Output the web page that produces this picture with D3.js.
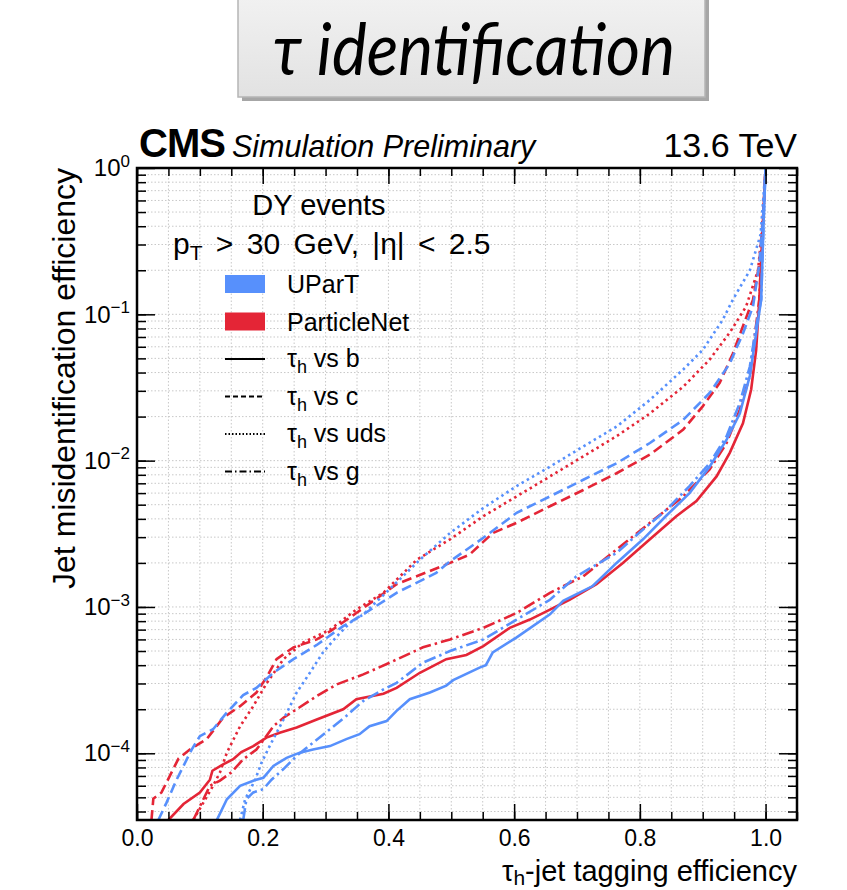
<!DOCTYPE html>
<html>
<head>
<meta charset="utf-8">
<script src="https://cdn.jsdelivr.net/npm/d3@7"></script>
<style>
  body { margin: 0; background: #fff; }
  svg { display: block; font-family: "Liberation Sans", Arial, Helvetica, sans-serif; }
</style>
</head>
<body>
<div id="chart"></div>
<script>
// curves: [tau_h tagging efficiency, jet misidentification efficiency]
const upartB = [[0.127,3.5e-5],[0.143,4.85e-5],[0.164,6.0e-5],[0.185,6.5e-5],[0.201,6.8e-5],[0.217,8.2e-5],[0.238,9.3e-5],[0.259,1.01e-4],[0.280,1.06e-4],[0.307,1.12e-4],[0.333,1.25e-4],[0.354,1.35e-4],[0.370,1.53e-4],[0.397,1.66e-4],[0.413,1.95e-4],[0.434,2.34e-4],[0.466,2.6e-4],[0.492,2.9e-4],[0.503,3.16e-4],[0.545,3.85e-4],[0.555,4.0e-4],[0.566,4.9e-4],[0.604,6.2e-4],[0.657,8.9e-4],[0.678,1.1e-3],[0.725,1.39e-3],[0.763,2.0e-3],[0.805,2.9e-3],[0.842,4.2e-3],[0.879,6.0e-3],[0.911,9.1e-3],[0.938,1.39e-2],[0.959,2.1e-2],[0.975,3.8e-2],[0.985,7.4e-2],[0.993,0.126],[0.997,0.45],[1.0,1.0]];
const upartC = [[0.034,3.5e-5],[0.047,4.6e-5],[0.063,6.6e-5],[0.074,8.2e-5],[0.087,1.06e-4],[0.100,1.31e-4],[0.121,1.46e-4],[0.143,1.9e-4],[0.169,2.5e-4],[0.190,2.8e-4],[0.217,3.55e-4],[0.249,4.4e-4],[0.286,5.5e-4],[0.328,7.4e-4],[0.360,8.9e-4],[0.413,1.25e-3],[0.476,1.71e-3],[0.498,2.05e-3],[0.551,2.97e-3],[0.604,4.4e-3],[0.657,5.7e-3],[0.710,7.4e-3],[0.763,9.6e-3],[0.816,1.32e-2],[0.869,1.9e-2],[0.911,2.9e-2],[0.943,4.6e-2],[0.964,7.4e-2],[0.980,0.113],[0.990,0.22],[0.996,0.45],[1.0,1.0]];
const upartUds = [[0.164,3.5e-5],[0.172,4.85e-5],[0.188,6.6e-5],[0.198,8.6e-5],[0.211,1.12e-4],[0.233,1.7e-4],[0.254,2.6e-4],[0.275,3.55e-4],[0.296,4.9e-4],[0.318,6.3e-4],[0.339,7.8e-4],[0.360,8.9e-4],[0.400,1.3e-3],[0.450,2.1e-3],[0.498,3.2e-3],[0.551,4.75e-3],[0.604,6.7e-3],[0.657,9.1e-3],[0.710,1.25e-2],[0.763,1.71e-2],[0.816,2.6e-2],[0.869,4.2e-2],[0.900,5.7e-2],[0.932,9.2e-2],[0.948,0.126],[0.975,0.2],[0.992,0.35],[1.0,1.0]];
const upartG = [[0.169,3.5e-5],[0.174,4.85e-5],[0.185,5.4e-5],[0.201,5.7e-5],[0.214,6.6e-5],[0.233,7.8e-5],[0.254,9.6e-5],[0.280,1.18e-4],[0.307,1.46e-4],[0.333,1.8e-4],[0.360,2.28e-4],[0.392,2.73e-4],[0.413,3.03e-4],[0.455,4.16e-4],[0.498,5.0e-4],[0.551,6.0e-4],[0.604,8.2e-4],[0.657,1.12e-3],[0.699,1.62e-3],[0.763,2.34e-3],[0.805,3.38e-3],[0.842,4.6e-3],[0.879,6.7e-3],[0.911,9.6e-3],[0.938,1.47e-2],[0.959,2.48e-2],[0.975,4.4e-2],[0.985,8.3e-2],[0.993,0.126],[0.997,0.45],[1.0,1.0]];

const pnB = [[0.050,3.5e-5],[0.074,4.5e-5],[0.100,5.4e-5],[0.116,6.6e-5],[0.120,7.6e-5],[0.137,8.4e-5],[0.153,9.1e-5],[0.166,1.02e-4],[0.185,1.12e-4],[0.206,1.28e-4],[0.227,1.38e-4],[0.254,1.5e-4],[0.286,1.7e-4],[0.328,2.0e-4],[0.349,2.34e-4],[0.392,2.55e-4],[0.413,2.8e-4],[0.450,3.55e-4],[0.492,4.4e-4],[0.524,4.7e-4],[0.551,5.4e-4],[0.593,7.2e-4],[0.625,8.2e-4],[0.657,9.6e-4],[0.688,1.12e-3],[0.731,1.43e-3],[0.773,2.0e-3],[0.816,2.9e-3],[0.858,4.17e-3],[0.890,5.3e-3],[0.922,7.8e-3],[0.943,1.13e-2],[0.964,1.8e-2],[0.977,3.05e-2],[0.985,5.7e-2],[0.990,0.126],[0.996,0.45],[1.0,1.0]];
const pnC = [[0.023,3.5e-5],[0.026,4.9e-5],[0.039,5.4e-5],[0.066,9.2e-5],[0.084,1.06e-4],[0.111,1.25e-4],[0.137,1.75e-4],[0.164,2.1e-4],[0.190,2.6e-4],[0.206,3.3e-4],[0.222,4.4e-4],[0.249,5.3e-4],[0.286,6.0e-4],[0.307,6.8e-4],[0.349,9.1e-4],[0.413,1.43e-3],[0.498,2.0e-3],[0.529,2.28e-3],[0.566,3.2e-3],[0.604,3.76e-3],[0.657,4.88e-3],[0.710,6.3e-3],[0.763,8.2e-3],[0.816,1.1e-2],[0.869,1.63e-2],[0.900,2.35e-2],[0.927,3.4e-2],[0.948,5.4e-2],[0.964,8.3e-2],[0.980,0.126],[0.990,0.22],[0.996,0.45],[1.0,1.0]];
const pnUds = [[0.0895,3.5e-5],[0.103,4.4e-5],[0.121,6.0e-5],[0.132,7.4e-5],[0.143,1.01e-4],[0.164,1.53e-4],[0.185,2.1e-4],[0.206,3.0e-4],[0.233,4.4e-4],[0.264,5.7e-4],[0.307,7.0e-4],[0.349,9.6e-4],[0.392,1.25e-3],[0.445,2.1e-3],[0.498,2.9e-3],[0.551,4.17e-3],[0.604,5.7e-3],[0.657,7.8e-3],[0.710,1.07e-2],[0.763,1.47e-2],[0.816,2.1e-2],[0.869,3.2e-2],[0.911,4.9e-2],[0.943,7.5e-2],[0.969,0.113],[0.988,0.2],[0.996,0.45],[1.0,1.0]];
const pnG = [[0.0895,3.5e-5],[0.103,4.6e-5],[0.116,6.0e-5],[0.132,6.5e-5],[0.150,7.4e-5],[0.169,9.1e-5],[0.190,1.06e-4],[0.204,1.28e-4],[0.217,1.53e-4],[0.233,1.75e-4],[0.254,2.0e-4],[0.286,2.46e-4],[0.318,2.96e-4],[0.360,3.46e-4],[0.402,4.16e-4],[0.455,5.3e-4],[0.498,6.0e-4],[0.551,7.2e-4],[0.604,9.1e-4],[0.657,1.25e-3],[0.710,1.62e-3],[0.763,2.47e-3],[0.816,3.76e-3],[0.869,5.7e-3],[0.911,8.7e-3],[0.938,1.32e-2],[0.959,2.23e-2],[0.975,3.8e-2],[0.982,6.7e-2],[0.990,0.126],[0.996,0.45],[1.0,1.0]];

const taggers = ["UParT", "ParticleNet"];
const tagColors = ["#5790fc", "#e42536"];
const bkgLabels = ["b", "c", "uds", "g"];
const xTicks = [0, 0.2, 0.4, 0.6, 0.8, 1.0];
const yTicks = [1, 1e-1, 1e-2, 1e-3, 1e-4];

// line style per background class
const dashes = { b: null, c: "10,5", uds: "2.5,3.5", g: "12,4,2.5,4" };
const legendDashes = { b: null, c: "5,3", uds: "1.5,2", g: "7,3,1.5,3" };

const series = [
  { tagger: "ParticleNet", bkg: "c", data: pnC },
  { tagger: "ParticleNet", bkg: "uds", data: pnUds },
  { tagger: "ParticleNet", bkg: "g", data: pnG },
  { tagger: "ParticleNet", bkg: "b", data: pnB },
  { tagger: "UParT", bkg: "c", data: upartC },
  { tagger: "UParT", bkg: "uds", data: upartUds },
  { tagger: "UParT", bkg: "g", data: upartG },
  { tagger: "UParT", bkg: "b", data: upartB }
];

const width = 847, height = 890;
const margin = { top: 168, right: 50, bottom: 70, left: 137 };

const svg = d3.select("#chart").append("svg")
  .attr("width", width).attr("height", height);

const color = d3.scaleOrdinal().domain(taggers).range(tagColors);

const x = d3.scaleLinear().domain([0, 1.05]).range([margin.left, width - margin.right]);
const y = d3.scaleLog().domain([3.5e-5, 1]).range([height - margin.bottom, margin.top]);

// title box
const defs = svg.append("defs");
const grad = defs.append("linearGradient").attr("id", "boxgrad")
  .attr("x1", 0).attr("y1", 0).attr("x2", 0).attr("y2", 1);
grad.append("stop").attr("offset", "0%").attr("stop-color", "#f2f2f2");
grad.append("stop").attr("offset", "100%").attr("stop-color", "#e2e2e2");

svg.append("rect").attr("x", 242).attr("y", -6).attr("width", 467).attr("height", 107)
  .attr("fill", "#a6a6a6");
svg.append("rect").attr("x", 238).attr("y", -8).attr("width", 467).attr("height", 105)
  .attr("fill", "url(#boxgrad)").attr("stroke", "#b5b5b5").attr("stroke-width", 1.5);
svg.append("text")
  .attr("x", 273).attr("y", 75)
  .attr("font-family", "Lato, 'Open Sans', sans-serif")
  .attr("font-style", "italic")
  .attr("font-size", 72)
  .attr("textLength", 402)
  .attr("lengthAdjust", "spacingAndGlyphs")
  .text("τ identification");

// grid
const xMinor = d3.range(0, 1.0501, 0.05);
const yMinor = [];
for (let e = -5; e < 0; e++) {
  for (let m = 1; m < 10; m++) {
    const v = m * Math.pow(10, e);
    if (v >= 3.5e-5 && v <= 1) yMinor.push(v);
  }
}
const grid = svg.append("g").attr("stroke", "#c8c8c8").attr("stroke-width", 1)
  .attr("stroke-dasharray", "1.5,2");
grid.selectAll(".gx").data(xMinor.slice(1)).join("line")
  .attr("x1", d => x(d)).attr("x2", d => x(d))
  .attr("y1", y.range()[0]).attr("y2", y.range()[1]);
grid.selectAll(".gy").data(yMinor).join("line")
  .attr("x1", x.range()[0]).attr("x2", x.range()[1])
  .attr("y1", d => y(d)).attr("y2", d => y(d));

// curves
defs.append("clipPath").attr("id", "plotclip").append("rect")
  .attr("x", x.range()[0]).attr("y", y.range()[1])
  .attr("width", x.range()[1] - x.range()[0])
  .attr("height", y.range()[0] - y.range()[1]);

const line = d3.line().x(d => x(d[0])).y(d => y(d[1]));

svg.append("g").attr("clip-path", "url(#plotclip)")
  .selectAll("path").data(series).join("path")
  .attr("d", d => line(d.data))
  .attr("fill", "none")
  .attr("stroke", d => color(d.tagger))
  .attr("stroke-width", 2.6)
  .attr("stroke-dasharray", d => dashes[d.bkg]);

// axes (ticks inward on all four sides)
const bottomAx = svg.append("g").attr("transform", `translate(0,${y.range()[0]})`)
  .call(d3.axisBottom(x).tickValues(xTicks).tickSize(-16).tickPadding(10)
    .tickFormat(d3.format(".1f")));
svg.append("g").attr("transform", `translate(0,${y.range()[0]})`)
  .call(d3.axisBottom(x).tickValues(xMinor).tickSize(-8).tickFormat(""));
svg.append("g").attr("transform", `translate(0,${y.range()[1]})`)
  .call(d3.axisTop(x).tickValues(xTicks).tickSize(-16).tickFormat(""));
svg.append("g").attr("transform", `translate(0,${y.range()[1]})`)
  .call(d3.axisTop(x).tickValues(xMinor).tickSize(-8).tickFormat(""));

const leftAx = svg.append("g").attr("transform", `translate(${x.range()[0]},0)`)
  .call(d3.axisLeft(y).tickValues(yTicks).tickSize(-18).tickPadding(7).tickFormat(""));
svg.append("g").attr("transform", `translate(${x.range()[0]},0)`)
  .call(d3.axisLeft(y).tickValues(yMinor).tickSize(-9).tickFormat(""));
svg.append("g").attr("transform", `translate(${x.range()[1]},0)`)
  .call(d3.axisRight(y).tickValues(yTicks).tickSize(-18).tickFormat(""));
svg.append("g").attr("transform", `translate(${x.range()[1]},0)`)
  .call(d3.axisRight(y).tickValues(yMinor).tickSize(-9).tickFormat(""));

svg.selectAll(".domain").remove();
svg.selectAll(".tick line").attr("stroke", "#000").attr("stroke-width", 1.5);
bottomAx.selectAll(".tick text")
  .attr("font-size", 23).attr("fill", "#000")
  .attr("font-family", "'Liberation Sans', Arial, sans-serif");

leftAx.selectAll(".tick text").each(function (d) {
  const t = d3.select(this)
    .attr("font-size", 24).attr("fill", "#000")
    .attr("font-family", "'Liberation Sans', Arial, sans-serif");
  const exp = Math.round(Math.log10(d));
  t.append("tspan").text("10");
  t.append("tspan").attr("dy", "-0.55em").attr("font-size", 17)
    .text(exp === 0 ? "0" : "−" + Math.abs(exp));
});

// frame
svg.append("rect")
  .attr("x", x.range()[0]).attr("y", y.range()[1])
  .attr("width", x.range()[1] - x.range()[0])
  .attr("height", y.range()[0] - y.range()[1])
  .attr("fill", "none").attr("stroke", "#000").attr("stroke-width", 2.5);

// axis titles
const xTitle = svg.append("text")
  .attr("x", x.range()[1]).attr("y", 881)
  .attr("text-anchor", "end").attr("font-size", 29);
xTitle.append("tspan").text("τ");
xTitle.append("tspan").attr("dy", 4).attr("font-size", 21).text("h");
xTitle.append("tspan").attr("dy", -4).text("-jet tagging efficiency");

svg.append("text")
  .attr("transform", `translate(75,${y.range()[1]}) rotate(-90)`)
  .attr("text-anchor", "end").attr("font-size", 32)
  .text("Jet misidentification efficiency");

// CMS header
const head = svg.append("text").attr("x", 139).attr("y", 157);
head.append("tspan").attr("font-weight", "bold").attr("font-size", 40)
  .attr("letter-spacing", -1).text("CMS");
head.append("tspan").attr("dx", 7).attr("font-style", "italic").attr("font-size", 30.5)
  .text("Simulation Preliminary");
svg.append("text").attr("x", x.range()[1]).attr("y", 157)
  .attr("text-anchor", "end").attr("font-size", 34).text("13.6 TeV");

// legend
svg.append("text").attr("x", 319).attr("y", 215)
  .attr("text-anchor", "middle").attr("font-size", 29).text("DY events");
const sel = svg.append("text").attr("x", 173).attr("y", 254).attr("font-size", 30)
  .attr("word-spacing", 5);
sel.append("tspan").text("p");
sel.append("tspan").attr("dy", 6).attr("font-size", 21).text("T");
sel.append("tspan").attr("dy", -6).text(" > 30 GeV, |η| < 2.5");

const legX = 225, legW = 40, legTextX = 287;
const legRow0 = 284, legStep = 37.5;

const tagRows = svg.append("g").selectAll("g").data(taggers).join("g")
  .attr("transform", (d, i) => `translate(0,${legRow0 + i * legStep})`);
tagRows.append("rect").attr("x", legX).attr("y", -9).attr("width", legW).attr("height", 18)
  .attr("fill", d => color(d));
tagRows.append("text").attr("x", legTextX).attr("y", 9).attr("font-size", 25).text(d => d);

const bkgRows = svg.append("g").selectAll("g").data(bkgLabels).join("g")
  .attr("transform", (d, i) => `translate(0,${legRow0 + (i + 2) * legStep})`);
bkgRows.append("line").attr("x1", legX).attr("x2", legX + legW)
  .attr("stroke", "#000").attr("stroke-width", 1.8)
  .attr("stroke-dasharray", d => legendDashes[d]);
const bt = bkgRows.append("text").attr("x", legTextX).attr("y", 8).attr("font-size", 25);
bt.append("tspan").text("τ");
bt.append("tspan").attr("dy", 6).attr("font-size", 18).text("h");
bt.append("tspan").attr("dy", -6).text(d => " vs " + d);
</script>
</body>
</html>
